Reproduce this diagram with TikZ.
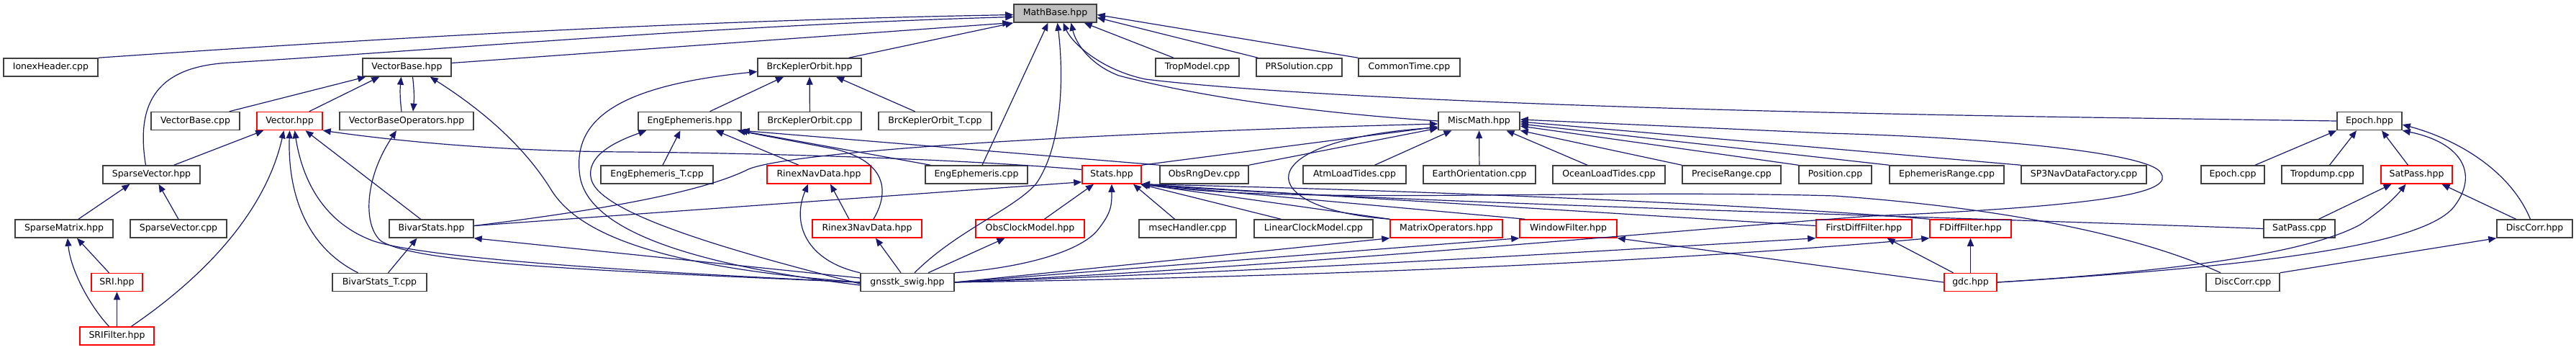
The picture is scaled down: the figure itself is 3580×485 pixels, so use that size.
\documentclass[tikz,border=0pt]{standalone}
\usepackage{fontspec}
\setmainfont{DejaVu Sans}
\usetikzlibrary{arrows.meta}
\definecolor{incblue}{RGB}{25,25,112}
\begin{document}
\begin{tikzpicture}[x=1pt,y=-1pt,
 file/.style={draw=black!75,line width=1.5pt,fill=white,inner sep=0pt,minimum height=25pt,font=\fontsize{12.5}{15}\selectfont},
 redfile/.style={file,draw=red},
 incl/.style={draw=incblue,line width=1.2pt,-{Triangle[length=11pt,width=9pt]}}]
\useasboundingbox (0,0) rectangle (3580,485);
\node[file,fill=black!25,minimum width=115pt](mathbase)at(1466.5,18.5){MathBase.hpp};
\node[file,minimum width=131pt](ionex)at(70.5,93.5){IonexHeader.cpp};
\node[file,minimum width=123pt](vbase)at(565.5,93.5){VectorBase.hpp};
\node[file,minimum width=144pt](brck)at(1125,93.5){BrcKeplerOrbit.hpp};
\node[file,minimum width=116pt](tropmodel)at(1664,93.5){TropModel.cpp};
\node[file,minimum width=119pt](prsol)at(1805.5,93.5){PRSolution.cpp};
\node[file,minimum width=141pt](commontime)at(1958.5,93.5){CommonTime.cpp};
\node[file,minimum width=123pt](vbasecpp)at(271.5,168){VectorBase.cpp};
\node[redfile,minimum width=91pt](vector)at(402.5,168){Vector.hpp};
\node[file,minimum width=186pt](vbaseops)at(565,168){VectorBaseOperators.hpp};
\node[file,minimum width=143pt](engeph)at(958.5,168){EngEphemeris.hpp};
\node[file,minimum width=143pt](brckcpp)at(1125.5,168){BrcKeplerOrbit.cpp};
\node[file,minimum width=157pt](brckt)at(1299.5,168){BrcKeplerOrbit\_T.cpp};
\node[file,minimum width=113pt](miscmath)at(2055.5,168){MiscMath.hpp};
\node[file,minimum width=90pt](epoch)at(3293,168){Epoch.hpp};
\node[file,minimum width=135pt](sparsevec)at(210.5,242.5){SparseVector.hpp};
\node[file,minimum width=156pt](engepht)at(913,242.5){EngEphemeris\_T.cpp};
\node[redfile,minimum width=144pt](rinexnav)at(1138,242.5){RinexNavData.hpp};
\node[file,minimum width=142pt](engephcpp)at(1357,242.5){EngEphemeris.cpp};
\node[redfile,minimum width=82pt](stats)at(1545,242.5){Stats.hpp};
\node[file,minimum width=123pt](obsrng)at(1673.5,242.5){ObsRngDev.cpp};
\node[file,minimum width=143pt](atmload)at(1882.5,242.5){AtmLoadTides.cpp};
\node[file,minimum width=156pt](earthor)at(2056,242.5){EarthOrientation.cpp};
\node[file,minimum width=156pt](oceanload)at(2236,242.5){OceanLoadTides.cpp};
\node[file,minimum width=137pt](preciserange)at(2406.5,242.5){PreciseRange.cpp};
\node[file,minimum width=101pt](position)at(2550.5,242.5){Position.cpp};
\node[file,minimum width=159pt](ephrange)at(2705.5,242.5){EphemerisRange.cpp};
\node[file,minimum width=174pt](sp3nav)at(2896,242.5){SP3NavDataFactory.cpp};
\node[file,minimum width=88pt](epochcpp)at(3103,242.5){Epoch.cpp};
\node[file,minimum width=113pt](tropdump)at(3227.5,242.5){Tropdump.cpp};
\node[redfile,minimum width=99pt](satpass)at(3358.5,242.5){SatPass.hpp};
\node[file,minimum width=136pt](sparsemat)at(89,317.5){SparseMatrix.hpp};
\node[file,minimum width=134pt](sparseveccpp)at(248,317.5){SparseVector.cpp};
\node[file,minimum width=117pt](bivar)at(599.5,317.5){BivarStats.hpp};
\node[redfile,minimum width=152pt](rinex3)at(1205,317.5){Rinex3NavData.hpp};
\node[redfile,minimum width=151pt](obsclock)at(1431.5,317.5){ObsClockModel.hpp};
\node[file,minimum width=135pt](msec)at(1650.5,317.5){msecHandler.cpp};
\node[file,minimum width=165pt](linclock)at(1825.5,317.5){LinearClockModel.cpp};
\node[redfile,minimum width=156pt](matrixops)at(2010,317.5){MatrixOperators.hpp};
\node[redfile,minimum width=135pt](windowf)at(2179.5,317.5){WindowFilter.hpp};
\node[redfile,minimum width=133pt](firstdiff)at(2590.5,317.5){FirstDiffFilter.hpp};
\node[redfile,minimum width=113pt](fdiff)at(2738.5,317.5){FDiffFilter.hpp};
\node[file,minimum width=99pt](satpasscpp)at(3195.5,317.5){SatPass.cpp};
\node[file,minimum width=105pt](disccorr)at(3522.5,317.5){DiscCorr.hpp};
\node[redfile,minimum width=71pt](sri)at(162.5,392){SRI.hpp};
\node[file,minimum width=131pt](bivart)at(527.5,392){BivarStats\_T.cpp};
\node[file,minimum width=130pt](gnsstk)at(1261,392){gnsstk\_swig.hpp};
\node[redfile,minimum width=73pt](gdc)at(2738.5,392){gdc.hpp};
\node[file,minimum width=102pt](disccorrcpp)at(3117,392){DiscCorr.cpp};
\node[redfile,minimum width=103pt](srifilter)at(162.5,466.5){SRIFilter.hpp};
\draw[incl](ionex.north east) .. controls (600,48) and (1000,28) .. ([yshift=-2pt]mathbase.west);
\draw[incl]([xshift=-8pt]sparsevec.north) .. controls (188,140) and (220,92) .. (320,87) .. controls (600,70) and (1000,35) .. ([yshift=-5pt]mathbase.west);
\draw[incl]([yshift=6pt]vbase.east) -- ([xshift=-4pt]mathbase.south west);
\draw[incl]([xshift=-18pt]brck.north east) -- (mathbase.south west);
\draw[incl]([xshift=8pt]engephcpp.north) -- ([xshift=-10pt]mathbase.south);
\draw[incl]([xshift=10pt]gnsstk.north) .. controls (1330,320) and (1410,290) .. (1440,255) .. controls (1478,200) and (1478,100) .. ([xshift=3pt]mathbase.south);
\draw[incl](epoch.west) -- (2900,163) .. controls (2300,154) and (1800,135) .. (1592,110) .. controls (1530,97) and (1490,60) .. ([xshift=11pt]mathbase.south);
\draw[incl](miscmath.west) .. controls (1800,155) and (1650,130) .. (1555,105) .. controls (1515,90) and (1495,60) .. ([xshift=22pt]mathbase.south);
\draw[incl]([xshift=-33pt]tropmodel.north) -- ([xshift=-18pt]mathbase.south east);
\draw[incl]([xshift=3pt]prsol.north west) -- ([yshift=-6pt]mathbase.east);
\draw[incl](commontime.north west) -- ([yshift=-2pt]mathbase.east);
\draw[incl]([xshift=-15pt]vbasecpp.north east) -- ([xshift=5pt]vbase.south west);
\draw[incl]([xshift=-19pt]vector.north east) -- ([xshift=24pt]vbase.south west);
\draw[incl]([xshift=-7pt]vbaseops.north) to[bend left=6] ([xshift=-8pt]vbase.south);
\draw[incl]([xshift=8pt]vbase.south) to[bend left=6] ([xshift=9pt]vbaseops.north);
\draw[incl](gnsstk.west) .. controls (900,370) and (800,320) .. (765,262) .. controls (720,190) and (650,140) .. ([xshift=-30pt]vbase.south east);
\draw[incl]([xshift=-37pt]sparsevec.north east) -- ([xshift=10pt]vector.south west);
\draw[incl]([xshift=20pt]srifilter.north) .. controls (290,380) and (370,290) .. ([xshift=-8pt]vector.south);
\draw[incl]([xshift=-30pt]bivart.north) .. controls (420,340) and (400,260) .. (vector.south);
\draw[incl](gnsstk.west) .. controls (900,378) and (600,360) .. (520,335) .. controls (450,310) and (420,250) .. ([xshift=7pt]vector.south);
\draw[incl]([xshift=-15pt]bivar.north) -- ([xshift=22pt]vector.south);
\draw[incl]([yshift=7pt]stats.west) .. controls (1300,218) and (1000,212) .. (870,211) .. controls (700,210) and (560,197) .. (vector.south east);
\draw[incl](gnsstk.west) .. controls (800,375) and (580,365) .. (530,335) .. controls (505,315) and (505,250) .. ([xshift=-14pt]vbaseops.south);
\draw[incl]([xshift=20pt]sparsemat.north) -- ([xshift=-30pt]sparsevec.south);
\draw[incl](sparseveccpp.north) -- ([xshift=10pt]sparsevec.south);
\draw[incl]([xshift=-11pt]sri.north) -- ([xshift=18pt]sparsemat.south);
\draw[incl]([xshift=-11pt]srifilter.north) .. controls (125,425) and (98,375) .. ([xshift=5pt]sparsemat.south);
\draw[incl](srifilter) -- (sri);
\draw[incl]([xshift=12pt]bivart.north) -- ([xshift=-20pt]bivar.south);
\draw[incl]([yshift=6pt]gnsstk.west) -- (bivar.south east);
\draw[incl]([yshift=4pt]bivar.east) -- ([yshift=3pt]stats.south west);
\draw[incl]([yshift=4pt]bivar.east) .. controls (850,290) and (980,265) .. (1040,235) .. controls (1100,210) and (1500,185) .. ([yshift=-4pt]miscmath.west);
\draw[incl]([xshift=28pt]engeph.north) -- ([xshift=-36pt]brck.south);
\draw[incl](brckcpp) -- (brck);
\draw[incl]([xshift=-28pt]brckt.north) -- ([xshift=37pt]brck.south);
\draw[incl]([yshift=-4pt]gnsstk.west) .. controls (1000,372) and (820,330) .. (806,245) .. controls (795,170) and (850,120) .. ([yshift=-6pt]brck.west);
\draw[incl]([yshift=-2pt]gnsstk.west) .. controls (1000,345) and (835,295) .. (822,250) .. controls (812,215) and (860,195) .. ([xshift=12pt]engeph.south west);
\draw[incl]([xshift=8pt]engepht.north) -- ([xshift=-13pt]engeph.south);
\draw[incl]([xshift=-28pt]rinexnav.north) -- ([xshift=36pt]engeph.south);
\draw[incl]([xshift=9pt]rinex3.north) .. controls (1240,260) and (1225,222) .. (1160,207) -- ([xshift=-6pt]engeph.south east);
\draw[incl]([xshift=8pt]engephcpp.north west) -- ([xshift=-3pt]engeph.south east);
\draw[incl](obsrng.north west) -- (engeph.south east);
\draw[incl]([xshift=-25pt]rinex3.north) -- ([xshift=16pt]rinexnav.south);
\draw[incl](gnsstk.north west) .. controls (1120,362) and (1100,310) .. ([xshift=-15pt]rinexnav.south);
\draw[incl]([xshift=-9pt]gnsstk.north) -- ([xshift=12pt]rinex3.south);
\draw[incl]([xshift=20pt]obsclock.north) -- ([xshift=-25pt]stats.south);
\draw[incl]([xshift=29pt]gnsstk.north) -- ([xshift=-35pt]obsclock.south);
\draw[incl](gnsstk.north east) .. controls (1420,372) and (1500,350) .. (1525,320) .. controls (1545,295) and (1545,285) .. (stats.south);
\draw[incl]([xshift=-18pt]msec.north) -- ([xshift=30pt]stats.south);
\draw[incl]([xshift=38pt]linclock.north west) -- ([xshift=-2pt]stats.south east);
\draw[incl](matrixops.north west) -- (stats.south east);
\draw[incl]([xshift=8pt]windowf.north west) -- (stats.south east);
\draw[incl]([yshift=4pt]firstdiff.west) -- (stats.south east);
\draw[incl](fdiff.north west) .. controls (2450,285) and (2000,265) .. (stats.south east);
\draw[incl](satpasscpp.west) .. controls (2600,298) and (1900,280) .. (stats.south east);
\draw[incl]([xshift=-31pt]disccorrcpp.north) .. controls (2980,330) and (2800,290) .. (2550,272) .. controls (2200,262) and (1800,285) .. (stats.south east);
\draw[incl](stats.north east) -- ([yshift=-8pt]miscmath.west);
\draw[incl](obsrng.north east) -- ([yshift=-10pt]miscmath.west);
\draw[incl](matrixops.north west) .. controls (1740,290) and (1730,195) .. ([yshift=-9pt]miscmath.west);
\draw[incl]([xshift=28pt]atmload.north) -- ([xshift=-38pt]miscmath.south);
\draw[incl](earthor) -- (miscmath);
\draw[incl]([xshift=-30pt]oceanload.north) -- ([xshift=38pt]miscmath.south);
\draw[incl](preciserange.north west) -- (miscmath.south east);
\draw[incl](position.north west) -- ([yshift=-7pt]miscmath.east);
\draw[incl](ephrange.north west) -- ([yshift=-4pt]miscmath.east);
\draw[incl](sp3nav.north west) -- ([yshift=-1pt]miscmath.east);
\draw[incl](gnsstk.east) .. controls (1800,370) and (2300,322) .. (2600,300) .. controls (2950,285) and (3020,265) .. (3003,240) .. controls (2990,215) and (2800,192) .. (2540,185) -- ([yshift=2pt]miscmath.east);
\draw[incl](gnsstk.east) -- (matrixops.south west);
\draw[incl](gnsstk.east) -- (windowf.south west);
\draw[incl](gnsstk.east) .. controls (1800,375) and (2200,350) .. (firstdiff.south west);
\draw[incl](gnsstk.east) .. controls (1800,385) and (2300,365) .. (fdiff.south west);
\draw[incl](gdc.west) -- (windowf.south east);
\draw[incl]([xshift=-24pt]gdc.north) -- ([xshift=32pt]firstdiff.south);
\draw[incl](gdc) -- (fdiff);
\draw[incl](gdc.east) .. controls (3000,378) and (3200,355) .. (3280,312) .. controls (3310,292) and (3328,275) .. ([xshift=-15pt]satpass.south);
\draw[incl](gdc.east) .. controls (3100,372) and (3370,345) .. (3412,285) .. controls (3445,240) and (3420,198) .. (epoch.south east);
\draw[incl]([xshift=-6pt]disccorr.north) .. controls (3490,240) and (3420,195) .. ([yshift=-5pt]epoch.east);
\draw[incl]([xshift=31pt]epochcpp.north) -- (epoch.south west);
\draw[incl]([xshift=10pt]tropdump.north) -- ([xshift=-18pt]epoch.south);
\draw[incl]([xshift=-12pt]satpass.north) -- ([xshift=17pt]epoch.south);
\draw[incl]([xshift=27pt]satpasscpp.north) -- ([xshift=-35pt]satpass.south);
\draw[incl]([xshift=-26pt]disccorr.north) -- ([xshift=35pt]satpass.south);
\draw[incl](disccorrcpp.north east) -- (disccorr.south west);
\end{tikzpicture}
\end{document}
